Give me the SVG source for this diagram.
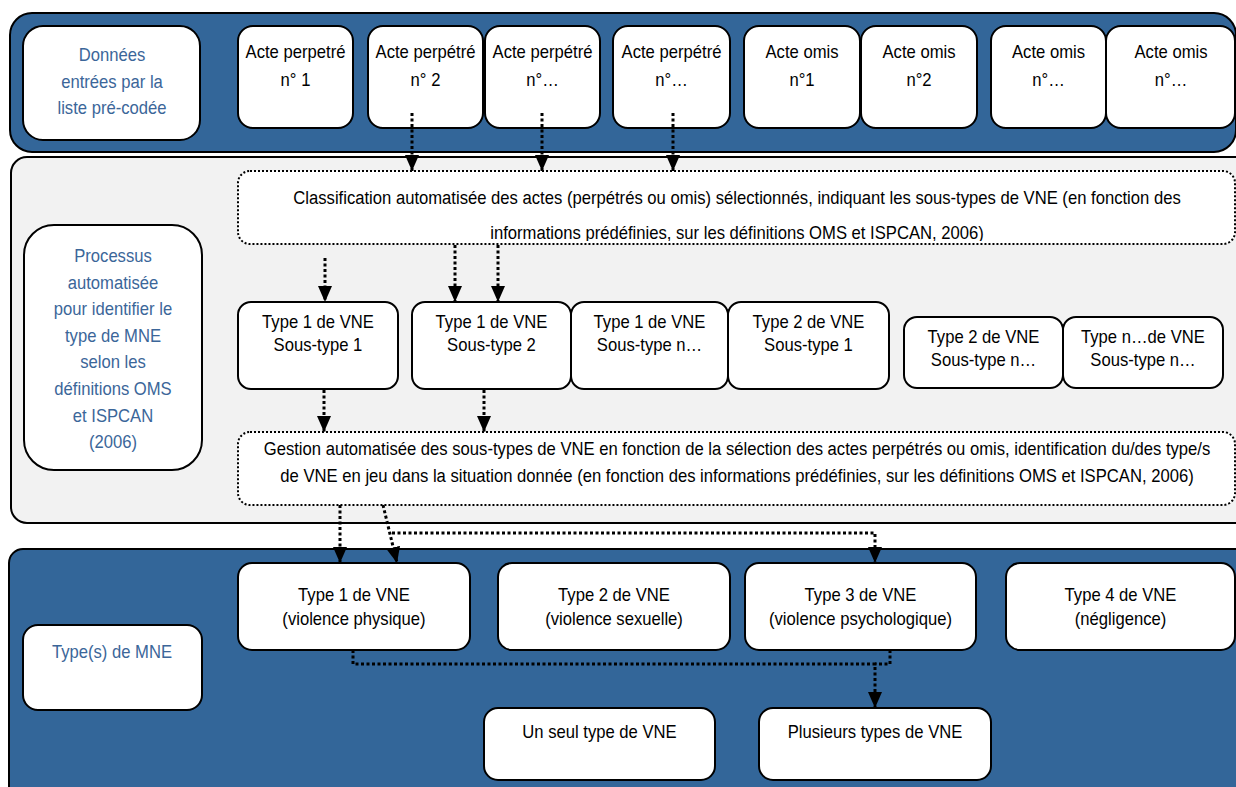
<svg xmlns="http://www.w3.org/2000/svg" width="1236" height="787" viewBox="0 0 1236 787">
<style>
.pb{fill:#336699;stroke:#000;stroke-width:2}
.pg{fill:#f2f2f2;stroke:#000;stroke-width:2}
.box{fill:#fff;stroke:#000;stroke-width:2}
.dbox{fill:#fff;stroke:#000;stroke-width:2;stroke-dasharray:2 2}
.conn{fill:none;stroke:#000;stroke-width:3;stroke-dasharray:3 2.5}
.t{font-family:"Liberation Sans",Arial,sans-serif;font-size:18.5px;text-anchor:middle;fill:#000}
.tb{fill:#3b6699}
</style>
<defs>
<marker id="ah" viewBox="0 0 16 14" refX="16" refY="7" markerWidth="16" markerHeight="14" markerUnits="userSpaceOnUse" orient="auto">
<path d="M0,0 L16,7 L0,14 z" fill="#000"/>
</marker>
<clipPath id="clipC"><rect x="238" y="171" width="997" height="70"/></clipPath>
</defs>

<g id="panel-top"><rect class="pb" x="10" y="13" width="1226" height="139" rx="22"/></g>
<g id="panel-mid"><rect class="pg" x="11" y="157" width="1240" height="366" rx="16"/></g>
<g id="panel-bot"><rect class="pb" x="9" y="549" width="1240" height="260" rx="14"/></g>

<g id="n-donnees"><rect class="box" x="23" y="26" width="177" height="114" rx="20"/>
<text class="t tb" transform="translate(112,61) scale(0.9,1)"><tspan x="0" y="0">Données</tspan><tspan x="0" y="27">entrées par la</tspan><tspan x="0" y="53">liste pré-codée</tspan></text></g>

<g id="n-ap1"><rect class="box" x="238" y="26" width="115" height="102" rx="15"/>
<text class="t" transform="translate(295.5,58) scale(0.9,1)"><tspan x="0" y="0">Acte perpetré</tspan><tspan x="0" y="28">n° 1</tspan></text></g>
<g id="n-ap2"><rect class="box" x="368" y="26" width="115" height="102" rx="15"/>
<text class="t" transform="translate(425.5,58) scale(0.9,1)"><tspan x="0" y="0">Acte perpétré</tspan><tspan x="0" y="28">n° 2</tspan></text></g>
<g id="n-ap3"><rect class="box" x="485" y="26" width="115" height="102" rx="15"/>
<text class="t" transform="translate(542.5,58) scale(0.9,1)"><tspan x="0" y="0">Acte perpétré</tspan><tspan x="0" y="28">n°…</tspan></text></g>
<g id="n-ap4"><rect class="box" x="613" y="26" width="117" height="102" rx="15"/>
<text class="t" transform="translate(671.5,58) scale(0.9,1)"><tspan x="0" y="0">Acte perpétré</tspan><tspan x="0" y="28">n°…</tspan></text></g>
<g id="n-ao1"><rect class="box" x="744" y="26" width="116" height="102" rx="15"/>
<text class="t" transform="translate(802,58) scale(0.9,1)"><tspan x="0" y="0">Acte omis</tspan><tspan x="0" y="28">n°1</tspan></text></g>
<g id="n-ao2"><rect class="box" x="861" y="26" width="116" height="102" rx="15"/>
<text class="t" transform="translate(919,58) scale(0.9,1)"><tspan x="0" y="0">Acte omis</tspan><tspan x="0" y="28">n°2</tspan></text></g>
<g id="n-ao3"><rect class="box" x="991" y="26" width="115" height="102" rx="15"/>
<text class="t" transform="translate(1048.5,58) scale(0.9,1)"><tspan x="0" y="0">Acte omis</tspan><tspan x="0" y="28">n°…</tspan></text></g>
<g id="n-ao4"><rect class="box" x="1106" y="26" width="129" height="102" rx="15"/>
<text class="t" transform="translate(1171,58) scale(0.9,1)"><tspan x="0" y="0">Acte omis</tspan><tspan x="0" y="28">n°…</tspan></text></g>

<g id="n-classif"><rect class="dbox" x="238" y="171" width="997" height="73" rx="12"/>
<g clip-path="url(#clipC)">
<text class="t" transform="translate(737,204) scale(0.9,1)"><tspan x="0" y="0">Classification automatisée des actes (perpétrés ou omis) sélectionnés, indiquant les sous-types de VNE (en fonction des</tspan><tspan x="0" y="35">informations prédéfinies, sur les définitions OMS et ISPCAN, 2006)</tspan></text>
</g></g>

<g id="n-processus"><rect class="box" x="24" y="225" width="178" height="245" rx="30"/>
<text class="t tb" transform="translate(113,262) scale(0.9,1)"><tspan x="0" y="0">Processus</tspan><tspan x="0" y="26.6">automatisée</tspan><tspan x="0" y="53.2">pour identifier le</tspan><tspan x="0" y="79.8">type de MNE</tspan><tspan x="0" y="106.4">selon les</tspan><tspan x="0" y="133">définitions OMS</tspan><tspan x="0" y="159.6">et ISPCAN</tspan><tspan x="0" y="186.2">(2006)</tspan></text></g>

<g id="n-st1"><rect class="box" x="238" y="302" width="160" height="87" rx="13"/>
<text class="t" transform="translate(318,328) scale(0.9,1)"><tspan x="0" y="0">Type 1 de VNE</tspan><tspan x="0" y="23">Sous-type 1</tspan></text></g>
<g id="n-st2"><rect class="box" x="412" y="302" width="159" height="87" rx="13"/>
<text class="t" transform="translate(491.5,328) scale(0.9,1)"><tspan x="0" y="0">Type 1 de VNE</tspan><tspan x="0" y="23">Sous-type 2</tspan></text></g>
<g id="n-st3"><rect class="box" x="571" y="302" width="157" height="87" rx="13"/>
<text class="t" transform="translate(649.5,328) scale(0.9,1)"><tspan x="0" y="0">Type 1 de VNE</tspan><tspan x="0" y="23">Sous-type n…</tspan></text></g>
<g id="n-st4"><rect class="box" x="728" y="302" width="161" height="87" rx="13"/>
<text class="t" transform="translate(808.5,328) scale(0.9,1)"><tspan x="0" y="0">Type 2 de VNE</tspan><tspan x="0" y="23">Sous-type 1</tspan></text></g>
<g id="n-st5"><rect class="box" x="904" y="317" width="159" height="71" rx="13"/>
<text class="t" transform="translate(983.5,343) scale(0.9,1)"><tspan x="0" y="0">Type 2 de VNE</tspan><tspan x="0" y="23">Sous-type n…</tspan></text></g>
<g id="n-st6"><rect class="box" x="1063" y="317" width="160" height="71" rx="13"/>
<text class="t" transform="translate(1143,343) scale(0.9,1)"><tspan x="0" y="0">Type n…de VNE</tspan><tspan x="0" y="23">Sous-type n…</tspan></text></g>

<g id="n-gestion"><rect class="dbox" x="238" y="432" width="997" height="73" rx="12"/>
<text class="t" transform="translate(737,455) scale(0.9,1)"><tspan x="0" y="0">Gestion automatisée des sous-types de VNE en fonction de la sélection des actes perpétrés ou omis, identification du/des type/s</tspan><tspan x="0" y="27">de VNE en jeu dans la situation donnée (en fonction des informations prédéfinies, sur les définitions OMS et ISPCAN, 2006)</tspan></text></g>

<g id="n-types"><rect class="box" x="23" y="625" width="179" height="85" rx="15"/>
<text class="t tb" transform="translate(112,658) scale(0.9,1)">Type(s) de MNE</text></g>

<g id="n-t1"><rect class="box" x="238" y="563" width="232" height="87" rx="14"/>
<text class="t" transform="translate(354,601) scale(0.9,1)"><tspan x="0" y="0">Type 1 de VNE</tspan><tspan x="0" y="24">(violence physique)</tspan></text></g>
<g id="n-t2"><rect class="box" x="498" y="563" width="232" height="87" rx="14"/>
<text class="t" transform="translate(614,601) scale(0.9,1)"><tspan x="0" y="0">Type 2 de VNE</tspan><tspan x="0" y="24">(violence sexuelle)</tspan></text></g>
<g id="n-t3"><rect class="box" x="745" y="563" width="231" height="87" rx="14"/>
<text class="t" transform="translate(860.5,601) scale(0.9,1)"><tspan x="0" y="0">Type 3 de VNE</tspan><tspan x="0" y="24">(violence psychologique)</tspan></text></g>
<g id="n-t4"><rect class="box" x="1006" y="563" width="229" height="87" rx="14"/>
<text class="t" transform="translate(1120.5,601) scale(0.9,1)"><tspan x="0" y="0">Type 4 de VNE</tspan><tspan x="0" y="24">(négligence)</tspan></text></g>

<g id="n-unseul"><rect class="box" x="484" y="708" width="231" height="72" rx="14"/>
<text class="t" transform="translate(599.5,738) scale(0.9,1)">Un seul type de VNE</text></g>
<g id="n-plusieurs"><rect class="box" x="759" y="708" width="232" height="72" rx="14"/>
<text class="t" transform="translate(875,738) scale(0.9,1)">Plusieurs types de VNE</text></g>

<g id="connectors">
<path class="conn" d="M412,113 V171" marker-end="url(#ah)"/>
<path class="conn" d="M542,113 V171" marker-end="url(#ah)"/>
<path class="conn" d="M673,113 V171" marker-end="url(#ah)"/>
<path class="conn" d="M325,258 V302" marker-end="url(#ah)"/>
<path class="conn" d="M455,245 V302" marker-end="url(#ah)"/>
<path class="conn" d="M498,245 V302" marker-end="url(#ah)"/>
<path class="conn" d="M324,390 V432" marker-end="url(#ah)"/>
<path class="conn" d="M484,390 V432" marker-end="url(#ah)"/>
<path class="conn" d="M340,505 V563" marker-end="url(#ah)"/>
<path class="conn" d="M383,505 L397,563" marker-end="url(#ah)"/>
<path class="conn" d="M392,533 H875 V563" marker-end="url(#ah)"/>
<path class="conn" d="M353,650 V664 H875 V708" marker-end="url(#ah)"/>
<path class="conn" d="M890,650 V664 H875"/>
</g>
</svg>
